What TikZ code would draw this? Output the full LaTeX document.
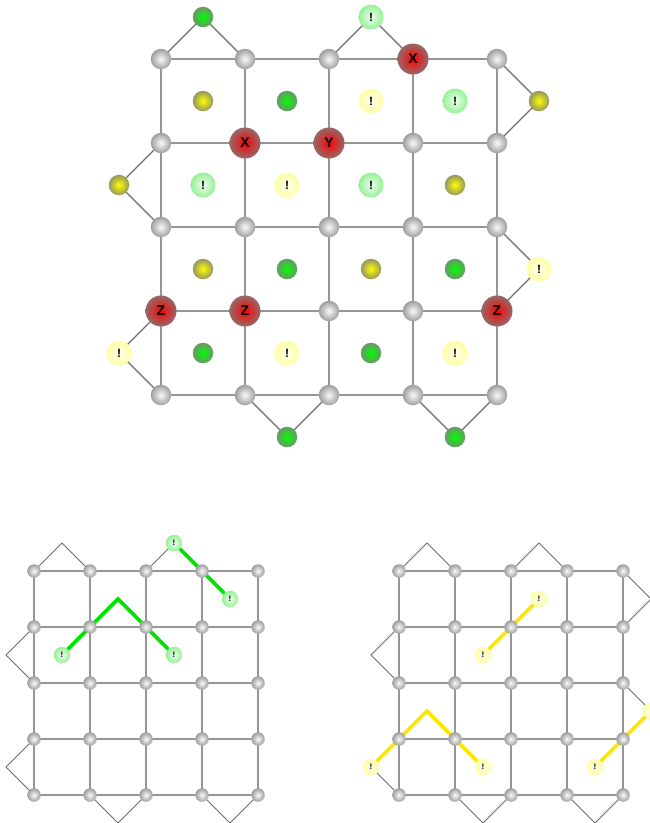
\documentclass[tikz,border=0pt]{standalone}
\usepackage{fontspec}
\setmainfont{Liberation Sans}
\usetikzlibrary{backgrounds}
\definecolor{gIn}{RGB}{250,250,250}
\definecolor{gOut}{RGB}{158,158,158}
\definecolor{rIn}{RGB}{255,0,0}
\definecolor{rOut}{RGB}{150,105,105}
\definecolor{grIn}{RGB}{0,255,0}
\definecolor{grOut}{RGB}{105,150,105}
\definecolor{olIn}{RGB}{255,255,0}
\definecolor{olOut}{RGB}{150,150,95}
\definecolor{lgIn}{RGB}{238,255,238}
\definecolor{lgOut}{RGB}{150,240,150}
\definecolor{lyIn}{RGB}{255,255,238}
\definecolor{lyOut}{RGB}{255,255,165}
\definecolor{edgeC}{RGB}{150,150,150}
\definecolor{triC}{RGB}{110,110,110}
\definecolor{pathG}{RGB}{0,228,0}
\definecolor{pathY}{RGB}{255,230,0}
\tikzset{
  ball/.style={circle, inner sep=0pt, draw=none, shading=radial},
  gnode/.style={ball, minimum size=#1, inner color=gIn, outer color=gOut},
  rnode/.style={ball, minimum size=31pt, inner color=rIn, outer color=rOut,
    font=\fontsize{14}{14}\selectfont\bfseries},
  grnode/.style={ball, minimum size=20.5pt, inner color=grIn, outer color=grOut},
  olnode/.style={ball, minimum size=20.5pt, inner color=olIn, outer color=olOut},
  lgnode/.style={ball, minimum size=25pt, inner color=lgIn, outer color=lgOut,
    font=\fontsize{12}{12}\selectfont\bfseries},
  lynode/.style={ball, minimum size=25pt, inner color=lyIn, outer color=lyOut,
    font=\fontsize{12}{12}\selectfont\bfseries},
  lgsmall/.style={lgnode, minimum size=16.5pt, font=\fontsize{8}{8}\selectfont\bfseries},
  lysmall/.style={lynode, minimum size=16.5pt, font=\fontsize{8}{8}\selectfont\bfseries},
  gridline/.style={draw=edgeC, line width=#1},
  triline/.style={draw=triC, line width=#1},
  gpath/.style={draw=pathG, line width=3.8pt},
  ypath/.style={draw=pathY, line width=3.8pt}
}
\begin{document}
\begin{tikzpicture}[x=1pt,y=-1pt]
\useasboundingbox (0,0) rectangle (650,823);

% ---------------- top diagram ----------------
\begin{scope}[shift={(161pt,-59pt)}, x=84pt, y=-84pt]
  \foreach \i in {0,...,4}
    \foreach \j in {0,...,4}
      \node[gnode=20.5pt] (t-\i-\j) at (\i,\j) {};
  % red nodes
  \node[rnode] (tx1) at (3,0) {X};
  \node[rnode] (tx2) at (1,1) {X};
  \node[rnode] (ty1) at (2,1) {Y};
  \node[rnode] (tz1) at (0,3) {Z};
  \node[rnode] (tz2) at (1,3) {Z};
  \node[rnode] (tz3) at (4,3) {Z};
  % plaquettes
  \node[olnode] (tp00) at (0.5,0.5) {};
  \node[grnode] (tp10) at (1.5,0.5) {};
  \node[lynode] (tp20) at (2.5,0.5) {!};
  \node[lgnode] (tp30) at (3.5,0.5) {!};
  \node[lgnode] (tp01) at (0.5,1.5) {!};
  \node[lynode] (tp11) at (1.5,1.5) {!};
  \node[lgnode] (tp21) at (2.5,1.5) {!};
  \node[olnode] (tp31) at (3.5,1.5) {};
  \node[olnode] (tp02) at (0.5,2.5) {};
  \node[grnode] (tp12) at (1.5,2.5) {};
  \node[olnode] (tp22) at (2.5,2.5) {};
  \node[grnode] (tp32) at (3.5,2.5) {};
  \node[grnode] (tp03) at (0.5,3.5) {};
  \node[lynode] (tp13) at (1.5,3.5) {!};
  \node[grnode] (tp23) at (2.5,3.5) {};
  \node[lynode] (tp33) at (3.5,3.5) {!};
  % boundary apexes
  \node[grnode] (ta1) at (0.5,-0.5) {};
  \node[lgnode] (ta2) at (2.5,-0.5) {!};
  \node[olnode] (ta3) at (4.5,0.5) {};
  \node[lynode] (ta4) at (4.5,2.5) {!};
  \node[olnode] (ta5) at (-0.5,1.5) {};
  \node[lynode] (ta6) at (-0.5,3.5) {!};
  \node[grnode] (ta7) at (1.5,4.5) {};
  \node[grnode] (ta8) at (3.5,4.5) {};
  \begin{scope}[on background layer]
    \foreach \i in {0,...,3}
      \foreach \j in {0,...,4} {
        \pgfmathtruncatemacro\k{\i+1}
        \draw[gridline=1.5pt] (t-\i-\j.center) -- (t-\k-\j.center);
        \draw[gridline=1.5pt] (t-\j-\i.center) -- (t-\j-\k.center);
      }
    \draw[triline=1.1pt] (t-0-0.center) -- (ta1.center) -- (t-1-0.center);
    \draw[triline=1.1pt] (t-2-0.center) -- (ta2.center) -- (t-3-0.center);
    \draw[triline=1.1pt] (t-4-0.center) -- (ta3.center) -- (t-4-1.center);
    \draw[triline=1.1pt] (t-4-2.center) -- (ta4.center) -- (t-4-3.center);
    \draw[triline=1.1pt] (t-0-1.center) -- (ta5.center) -- (t-0-2.center);
    \draw[triline=1.1pt] (t-0-3.center) -- (ta6.center) -- (t-0-4.center);
    \draw[triline=1.1pt] (t-1-4.center) -- (ta7.center) -- (t-2-4.center);
    \draw[triline=1.1pt] (t-3-4.center) -- (ta8.center) -- (t-4-4.center);
  \end{scope}
\end{scope}

% ---------------- bottom-left diagram ----------------
\begin{scope}[shift={(34pt,-571pt)}, x=56pt, y=-56pt]
  \foreach \i in {0,...,4}
    \foreach \j in {0,...,4}
      \node[gnode=13.5pt] (l-\i-\j) at (\i,\j) {};
  \coordinate (la1) at (0.5,-0.5);
  \node[lgsmall] (la2) at (2.5,-0.5) {!};
  \coordinate (la3) at (-0.5,1.5);
  \coordinate (la4) at (-0.5,3.5);
  \coordinate (la5) at (1.5,4.5);
  \coordinate (la6) at (3.5,4.5);
  \node[lgsmall] (le1) at (0.5,1.5) {!};
  \node[lgsmall] (le2) at (2.5,1.5) {!};
  \node[lgsmall] (le3) at (3.5,0.5) {!};
  \coordinate (lc1) at (1.5,0.5);
  \begin{scope}[on background layer]
    \foreach \i in {0,...,3}
      \foreach \j in {0,...,4} {
        \pgfmathtruncatemacro\k{\i+1}
        \draw[gridline=1.1pt] (l-\i-\j.center) -- (l-\k-\j.center);
        \draw[gridline=1.1pt] (l-\j-\i.center) -- (l-\j-\k.center);
      }
    \draw[triline=0.8pt] (l-0-0.center) -- (la1) -- (l-1-0.center);
    \draw[triline=0.8pt] (l-2-0.center) -- (la2.center) -- (l-3-0.center);
    \draw[triline=0.8pt] (l-0-1.center) -- (la3) -- (l-0-2.center);
    \draw[triline=0.8pt] (l-0-3.center) -- (la4) -- (l-0-4.center);
    \draw[triline=0.8pt] (l-1-4.center) -- (la5) -- (l-2-4.center);
    \draw[triline=0.8pt] (l-3-4.center) -- (la6) -- (l-4-4.center);
    \draw[gpath] (le1.center) -- (l-1-1.center) -- (lc1) -- (l-2-1.center) -- (le2.center);
    \draw[gpath] (la2.center) -- (l-3-0.center) -- (le3.center);
  \end{scope}
\end{scope}

% ---------------- bottom-right diagram ----------------
\begin{scope}[shift={(399pt,-571pt)}, x=56pt, y=-56pt]
  \foreach \i in {0,...,4}
    \foreach \j in {0,...,4}
      \node[gnode=13.5pt] (r-\i-\j) at (\i,\j) {};
  \coordinate (ra1) at (0.5,-0.5);
  \coordinate (ra2) at (2.5,-0.5);
  \coordinate (ra3) at (4.5,0.5);
  \node[lysmall] (ra4) at (4.5,2.5) {!};
  \coordinate (ra5) at (-0.5,1.5);
  \node[lysmall] (ra6) at (-0.5,3.5) {!};
  \coordinate (ra7) at (1.5,4.5);
  \coordinate (ra8) at (3.5,4.5);
  \node[lysmall] (re1) at (1.5,1.5) {!};
  \node[lysmall] (re2) at (2.5,0.5) {!};
  \node[lysmall] (re3) at (1.5,3.5) {!};
  \node[lysmall] (re4) at (3.5,3.5) {!};
  \coordinate (rc1) at (0.5,2.5);
  \begin{scope}[on background layer]
    \foreach \i in {0,...,3}
      \foreach \j in {0,...,4} {
        \pgfmathtruncatemacro\k{\i+1}
        \draw[gridline=1.1pt] (r-\i-\j.center) -- (r-\k-\j.center);
        \draw[gridline=1.1pt] (r-\j-\i.center) -- (r-\j-\k.center);
      }
    \draw[triline=0.8pt] (r-0-0.center) -- (ra1) -- (r-1-0.center);
    \draw[triline=0.8pt] (r-2-0.center) -- (ra2) -- (r-3-0.center);
    \draw[triline=0.8pt] (r-4-0.center) -- (ra3) -- (r-4-1.center);
    \draw[triline=0.8pt] (r-4-2.center) -- (ra4.center) -- (r-4-3.center);
    \draw[triline=0.8pt] (r-0-1.center) -- (ra5) -- (r-0-2.center);
    \draw[triline=0.8pt] (r-0-3.center) -- (ra6.center) -- (r-0-4.center);
    \draw[triline=0.8pt] (r-1-4.center) -- (ra7) -- (r-2-4.center);
    \draw[triline=0.8pt] (r-3-4.center) -- (ra8) -- (r-4-4.center);
    \draw[ypath] (re1.center) -- (r-2-1.center) -- (re2.center);
    \draw[ypath] (ra6.center) -- (r-0-3.center) -- (rc1) -- (r-1-3.center) -- (re3.center);
    \draw[ypath] (re4.center) -- (r-4-3.center) -- (ra4.center);
  \end{scope}
\end{scope}
\end{tikzpicture}
\end{document}
